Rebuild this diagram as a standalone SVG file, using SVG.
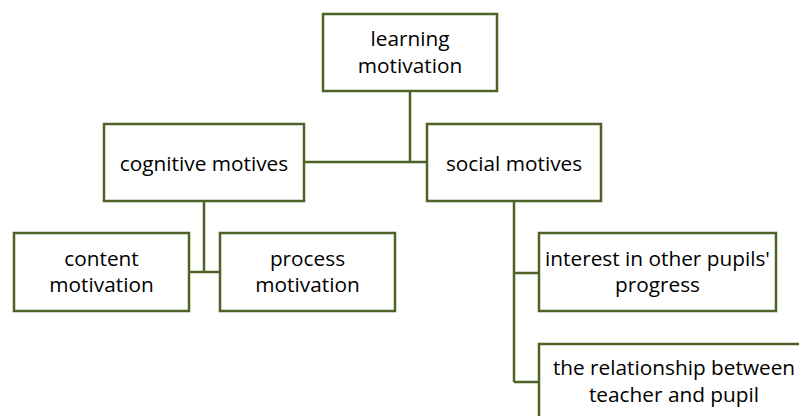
<svg xmlns="http://www.w3.org/2000/svg" width="799" height="416" viewBox="0 0 799 416">
<style>
.box{fill:#fff;stroke:#4F6228;stroke-width:2.5}
.ln{fill:none;stroke:#4F6228;stroke-width:2.5}
text{font-family:"Open Sans","Liberation Sans",sans-serif;font-size:20.8px;fill:#000;text-anchor:middle}
</style>
<rect width="799" height="416" fill="#fff"/>
<g id="connectors">
<path class="ln" d="M410 91V163M304 162H427"/>
<path class="ln" d="M204 201V272M189 272H220"/>
<path class="ln" d="M514 201V382M514 273H539M514 382H539"/>
</g>
<g id="learning"><rect class="box" x="323" y="14" width="174" height="77"/><text x="410" y="46">learning</text><text x="410" y="73">motivation</text></g>
<g id="cognitive"><rect class="box" x="104" y="124" width="200" height="77"/><text x="204" y="171">cognitive motives</text></g>
<g id="social"><rect class="box" x="427" y="124" width="174" height="77"/><text x="514" y="171">social motives</text></g>
<g id="content"><rect class="box" x="14" y="233" width="175" height="78"/><text x="101.5" y="266">content</text><text x="101.5" y="292">motivation</text></g>
<g id="process"><rect class="box" x="220" y="233" width="175" height="78"/><text x="307.5" y="266">process</text><text x="307.5" y="292">motivation</text></g>
<g id="interest"><rect class="box" x="539" y="233" width="237" height="78"/><text x="657.5" y="266">interest in other pupils'</text><text x="657.5" y="292">progress</text></g>
<g id="relationship"><rect class="box" x="539" y="344" width="270" height="80"/><text x="674" y="375">the relationship between</text><text x="674" y="402">teacher and pupil</text></g>
</svg>
